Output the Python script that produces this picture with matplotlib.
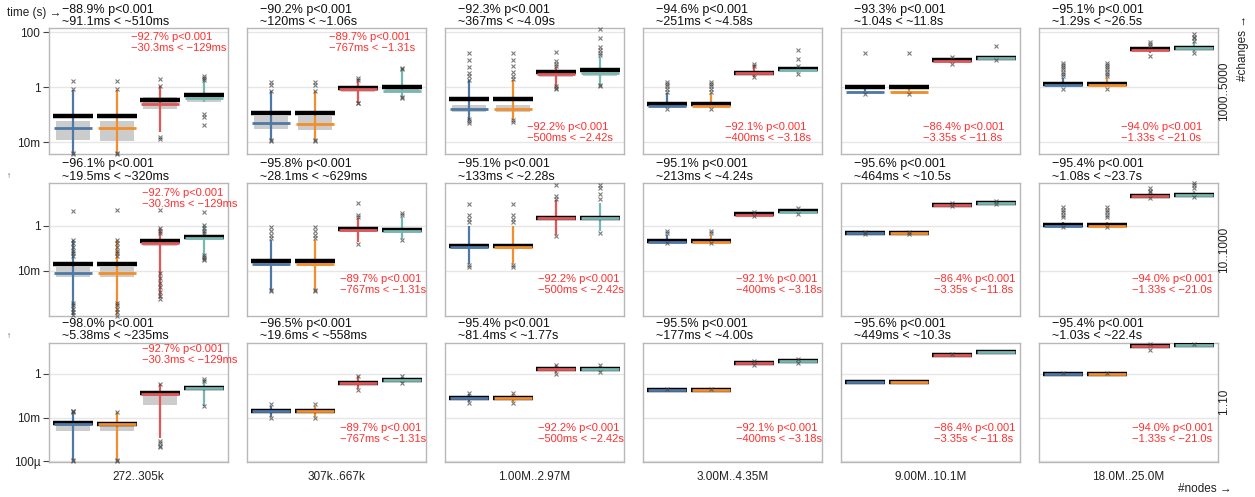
import matplotlib
matplotlib.use('Agg')
import matplotlib.pyplot as plt
import numpy as np
from matplotlib.ticker import FixedLocator, FixedFormatter, NullLocator

plt.rcParams['font.family'] = ['Liberation Sans', 'DejaVu Sans']

W, H = 1255, 497

node_bins = ["272..305k", "307k..667k", "1.00M..2.97M", "3.00M..4.35M", "9.00M..10.1M", "18.0M..25.0M"]
change_bins = ["1000..5000", "10..1000", "1..10"]
colors = ['#4e79a7', '#f28e2b', '#e15759', '#76b7b2']

# values in seconds, [row][col][series]
mean = [
    [[.0911, .0911, .35, .51], [.12, .12, .92, 1.06], [.367, .367, 3.5, 4.09],
     [.251, .251, 3.4, 4.58], [1.04, 1.04, 9.5, 11.8], [1.29, 1.29, 24.7, 26.5]],
    [[.0195, .0195, .22, .32], [.0281, .0281, .71, .629], [.133, .133, 2.3, 2.28],
     [.213, .213, 3.2, 4.24], [.464, .464, 8.5, 10.5], [1.08, 1.08, 20.4, 23.7]],
    [[.00538, .0052, .13, .235], [.0196, .0196, .4, .558], [.0814, .0814, 1.7, 1.77],
     [.177, .177, 3.2, 4.0], [.449, .449, 7.5, 10.3], [1.03, 1.03, 19.4, 22.4]],
]
median = [
    [[.033, .032, .25, .42], [.049, .047, .85, .75], [.158, .158, 3.0, 3.2],
     [.21, .21, 3.3, 4.4], [.65, .65, 9.3, 11.3], [1.2, 1.2, 23.5, 26]],
    [[.0085, .0085, .167, .3], [.02, .02, .65, .6], [.11, .11, 2.1, 2.2],
     [.2, .2, 3.1, 4.1], [.46, .46, 8.4, 10.4], [1.0, 1.0, 20, 23]],
    [[.005, .0048, .125, .235], [.019, .019, .39, .55], [.08, .08, 1.65, 1.75],
     [.175, .175, 3.15, 3.95], [.445, .445, 7.4, 10.2], [1.02, 1.02, 19, 22.2]],
]
q1 = [
    [[.012, .011, .16, .3], [.03, .029, .69, .68], [.126, .126, 2.3, 2.5],
     [.2, .2, 3.0, 4.0], [.6, .58, 8.7, 10.5], [1.1, 1.1, 21.5, 24]],
    [[.0053, .0053, .127, .27], [.017, .017, .55, .55], [.09, .09, 1.8, 1.9],
     [.19, .19, 2.9, 3.9], [.44, .44, 8, 10], [.95, .95, 19, 22]],
    [[.0025, .0025, .037, .2], [.017, .017, .33, .5], [.072, .072, 1.5, 1.6],
     [.17, .17, 3.0, 3.8], [.43, .43, 7.1, 9.8], [.97, .97, 18, 21.5]],
]
q3 = [
    [[.059, .058, .43, .56], [.091, .09, .92, .98], [.22, .22, 4.0, 4.4],
     [.26, .26, 3.6, 4.9], [.75, .74, 10.2, 12.5], [1.4, 1.4, 26, 29]],
    [[.0145, .0145, .26, .38], [.03, .03, .8, .7], [.16, .16, 2.6, 2.6],
     [.22, .22, 3.4, 4.5], [.48, .48, 8.9, 11], [1.1, 1.1, 21.5, 25]],
    [[.0065, .0063, .154, .29], [.022, .022, .45, .6], [.09, .09, 1.85, 1.9],
     [.185, .185, 3.4, 4.2], [.465, .465, 7.9, 10.8], [1.08, 1.08, 20.5, 23.5]],
]
whisker_lo = [
    [[.004, .0042, .024, .3], [.012, .012, .28, .43], [.065, .065, 1.05, 1.2],
     [.19, .19, 2.4, 3.2], [.55, .55, 8, 9.7], [1.0, 1.0, 17, 20]],
    [[.00012, .00012, .00063, .031], [.0015, .0015, .19, .25], [.02, .02, .4, .6],
     [.17, .17, 2.7, 3.5], [.42, .42, 7.8, 9.7], [.9, .9, 18, 20]],
    [[.00011, .00011, .0011, .034], [.011, .011, .2, .4], [.05, .05, 1.1, 1.3],
     [.16, .16, 2.8, 3.5], [.42, .42, 6.9, 9.5], [.95, .95, 17, 21]],
]
whisker_hi = [
    [[.8, .8, 1.1, 2.4], [.75, .75, 2.05, 4.9], [1.84, 1.84, 5.6, 13],
     [.64, .64, 6.5, 6], [1.04, 1.0, 12, 12.5], [2.1, 2.1, 30, 45]],
    [[.23, .23, .77, 1.07], [.23, .23, 2.2, 2.5], [1.0, 1.0, 13, 10],
     [.4, .4, 3.8, 5.5], [.52, .52, 9.3, 11.5], [1.4, 1.4, 25, 35]],
    [[.0185, .017, .35, .53], [.035, .035, .8, .75], [.12, .12, 2.5, 2.3],
     [.2, .2, 3.6, 4.5], [.48, .48, 8.2, 11.2], [1.1, 1.1, 21, 24]],
]
outliers = [
    [[[1.7, .9, .004, .0037], [1.7, .9, .0042, .0038], [2.0, 1.1, .016, .013], [2.5, 2.2, 1.9, .11, .085, .042]],
     [[1.6, 1.2, .75, .012, .011], [1.6, 1.2, .75, .012, .011], [2.1, 1.9, .28, .26], [5.2, 4.7, .43, .4]],
     [[17, 10, 5.6, 3.3, 2.5, 1.9, .07, .06, .05], [17, 10, 6, 3.5, 2.6, 2.0, .065, .055],
      [20, 9, 7, 5.8, 1.1, .95, .9], [130, 60, 30, 22, 17, 15, 1.2, 1.1]],
     [[1.5, 1.3, 1.1, .9, .7, .16], [1.5, 1.3, 1.1, .9, .7, .16], [7, 6, 2.3], [23, 10.4, 6.2, 3.0]],
     [[17, .55], [17, .55], [12.5, 7.2], [31, 9.5]],
     [[7.5, 6.5, 5.5, 4.5, 3.7, 3, 2.5, .85], [7.5, 6.5, 5.5, 4.5, 3.7, 3, 2.5, .85],
      [45, 38, 33, 14], [85, 70, 60, 50, 18]]],
    [[[4.6, .23, .17, .12, .08, .06, .045, .0004, .0003, .0002, .00015, .00012],
      [4.9, .23, .17, .12, .08, .06, .045, .0004, .0003, .0002, .00015, .0001],
      [4.9, .77, .6, .47, .008, .005, .003, .002, .0012, .0008, .0006],
      [4.1, 1.07, .8, .6, .5, .05, .04, .035, .03]],
     [[.87, .6, .4, .3, .0015, .0013], [.87, .6, .4, .3, .0015, .0013], [10, 3, 2.5, .15], [3.5, 3, .23]],
     [[9, 3, 2, 1.5, .018, .015], [9, 3, 2, 1.5, .018, .015], [60, 20, 15, .35], [60, 45, 25, 15, .5]],
     [[.6, .5, .17], [.6, .5, .17], [4, 2.6], [6, 3.3]],
     [[.55, .41], [.55, .41], [9.6, 7.5], [12, 9.5]],
     [[6.5, 5, 4, 3, 2.5, .85], [6.5, 5, 4, 3, 2.5, .85], [45, 35, 30, 17], [75, 60, 45, 19]]],
    [[[.02, .019, .017, .00011, .0001], [.018, .00011, .0001], [.36, .00085, .0007, .0005, .00043], [.6, .5, .034]],
     [[.04, .01], [.04, .01], [.85, .18], [.8, .38]],
     [[.13, .045], [.13, .045], [2.7, 1.0], [2.5, 1.2]],
     [[.21], [.21], [3.8, 2.7], [4.7, 3.3]],
     [[], [], [8.5], []],
     [[1.12], [1.12], [25, 13], [24.5]]],
]

head_pct = [[88.9, 90.2, 92.3, 94.6, 93.3, 95.1],
            [96.1, 95.8, 95.1, 95.1, 95.6, 95.4],
            [98.0, 96.5, 95.4, 95.5, 95.6, 95.4]]
red_pct = [92.7, 89.7, 92.2, 92.1, 86.4, 94.0]
red_lo = [.0303, .767, .5, .4, 3.35, 1.33]
red_hi = [.129, 1.31, 2.42, 3.18, 11.8, 21.0]
red_top = [[1, 1, 0, 0, 0, 0], [1, 0, 0, 0, 0, 0], [1, 0, 0, 0, 0, 0]]

y_ticks = [[1e-2, 1, 100], [1e-2, 1], [1e-4, 1e-2, 1]]
y_ticklabels = [['10m', '1', '100'], ['10m', '1'], ['100µ', '10m', '1']]

# layout in pixels
col_left = [49.3 + 198 * i for i in range(6)]
col_w = 178.5
row_top = [28.3, 183.3, 342.7]
row_bot = [154, 316, 461.7]
row_ylim = [(-2.425, 2.145), (-3.987, 1.872), (-4.032, 1.439)]
red_dx = [82, 93, 93]
red_top_dy = [8.5, 9.4, 6.6]
red_bot_dy = [16.5, 26.7, 23.4]
RED = '#ff3030'


def fmt_t(v):
    if v < 1:
        x, u = v * 1000, 'ms'
    else:
        x, u = v, 's'
    if x >= 99.95:
        s = f"{x:.0f}"
    elif x >= 9.995:
        s = f"{x:.1f}"
    else:
        s = f"{x:.2f}"
    return s + u


def fpx(x, y):
    return x / W, 1 - y / H


fig = plt.figure(figsize=(W / 100, H / 100), dpi=100)

for r in range(3):
    for c in range(6):
        l, t, b = col_left[c], row_top[r], row_bot[r]
        ax = fig.add_axes([l / W, 1 - b / H, col_w / W, (b - t) / H])
        ax.set_yscale('log')
        ax.set_ylim(10 ** row_ylim[r][0], 10 ** row_ylim[r][1])
        ax.set_xlim(-0.55, 3.55)
        ax.yaxis.set_major_locator(FixedLocator(y_ticks[r]))
        ax.yaxis.set_minor_locator(NullLocator())
        ax.yaxis.set_major_formatter(FixedFormatter(y_ticklabels[r]))
        ax.set_xticks([])
        ax.grid(axis='y', color='#e6e6e6', lw=1.0, zorder=0)
        ax.set_axisbelow(True)
        for sp in ax.spines.values():
            sp.set_color('#b8b8b8')
            sp.set_linewidth(1.0)
        if c == 0:
            ax.tick_params(axis='y', length=4.5, width=0.8, color='#444444',
                           labelsize=8.5, pad=2, labelcolor='#222222')
        else:
            ax.tick_params(axis='y', length=0, labelleft=False)

        for s in range(4):
            col = colors[s]
            ax.bar(s, q3[r][c][s] - q1[r][c][s], bottom=q1[r][c][s], width=0.78,
                   color='#cccccc', zorder=1)
            ax.vlines(s, whisker_lo[r][c][s], whisker_hi[r][c][s], color=col, lw=1.6, zorder=2)
            ax.hlines(mean[r][c][s], s - 0.46, s + 0.46, color='black', lw=3.2, zorder=3)
            ax.hlines(median[r][c][s], s - 0.44, s + 0.44, color=col, lw=2.0, zorder=4)
            o = outliers[r][c][s]
            if o:
                ax.plot([s] * len(o), o, 'x', color='#444444', ms=3.2, mew=0.8,
                        alpha=0.7, zorder=5, clip_on=False)

        # header text
        hx = l + 12.7
        fig.text(*fpx(hx, t - 18.8), f"\u2212{head_pct[r][c]:.1f}% p<0.001",
                 fontsize=9, va='center', ha='left', color='#111111')
        fig.text(*fpx(hx, t - 6.6),
                 f"~{fmt_t(mean[r][c][0])} < ~{fmt_t(mean[r][c][3])}",
                 fontsize=9, va='center', ha='left', color='#111111')

        # red text
        rx = l + red_dx[r]
        if red_top[r][c]:
            y1 = t + red_top_dy[r]
        else:
            y1 = b - red_bot_dy[r] - 10.5
        fig.text(*fpx(rx, y1), f"\u2212{red_pct[c]:.1f}% p<0.001",
                 fontsize=8, va='center', ha='left', color=RED)
        fig.text(*fpx(rx, y1 + 10.8), f"\u2212{fmt_t(red_lo[c])} < \u2212{fmt_t(red_hi[c])}",
                 fontsize=8, va='center', ha='left', color=RED)

        if r == 2:
            fig.text(*fpx(l + col_w / 2, 477), node_bins[c], fontsize=8.5,
                     ha='center', va='center', color='#222222')
        if c == 5:
            fig.text(*fpx(1224, (t + b) / 2), change_bins[r], fontsize=8.5,
                     rotation=90, ha='center', va='center', color='#222222')

fig.text(*fpx(7, 13), "time (s) \u2192", fontsize=8.5, ha='left', va='center', color='#222222')
fig.text(*fpx(9.3, 177), "\u2191", fontsize=6, ha='center', va='center', color='#444444')
fig.text(*fpx(9.3, 337), "\u2191", fontsize=6, ha='center', va='center', color='#444444')
fig.text(*fpx(1243, 48), "#changes \u2192", fontsize=8.5, rotation=90,
         ha='center', va='center', color='#222222')
fig.text(*fpx(1178, 489), "#nodes \u2192", fontsize=8.5, ha='left', va='center', color='#222222')

fig.savefig('out.png', dpi=100)
